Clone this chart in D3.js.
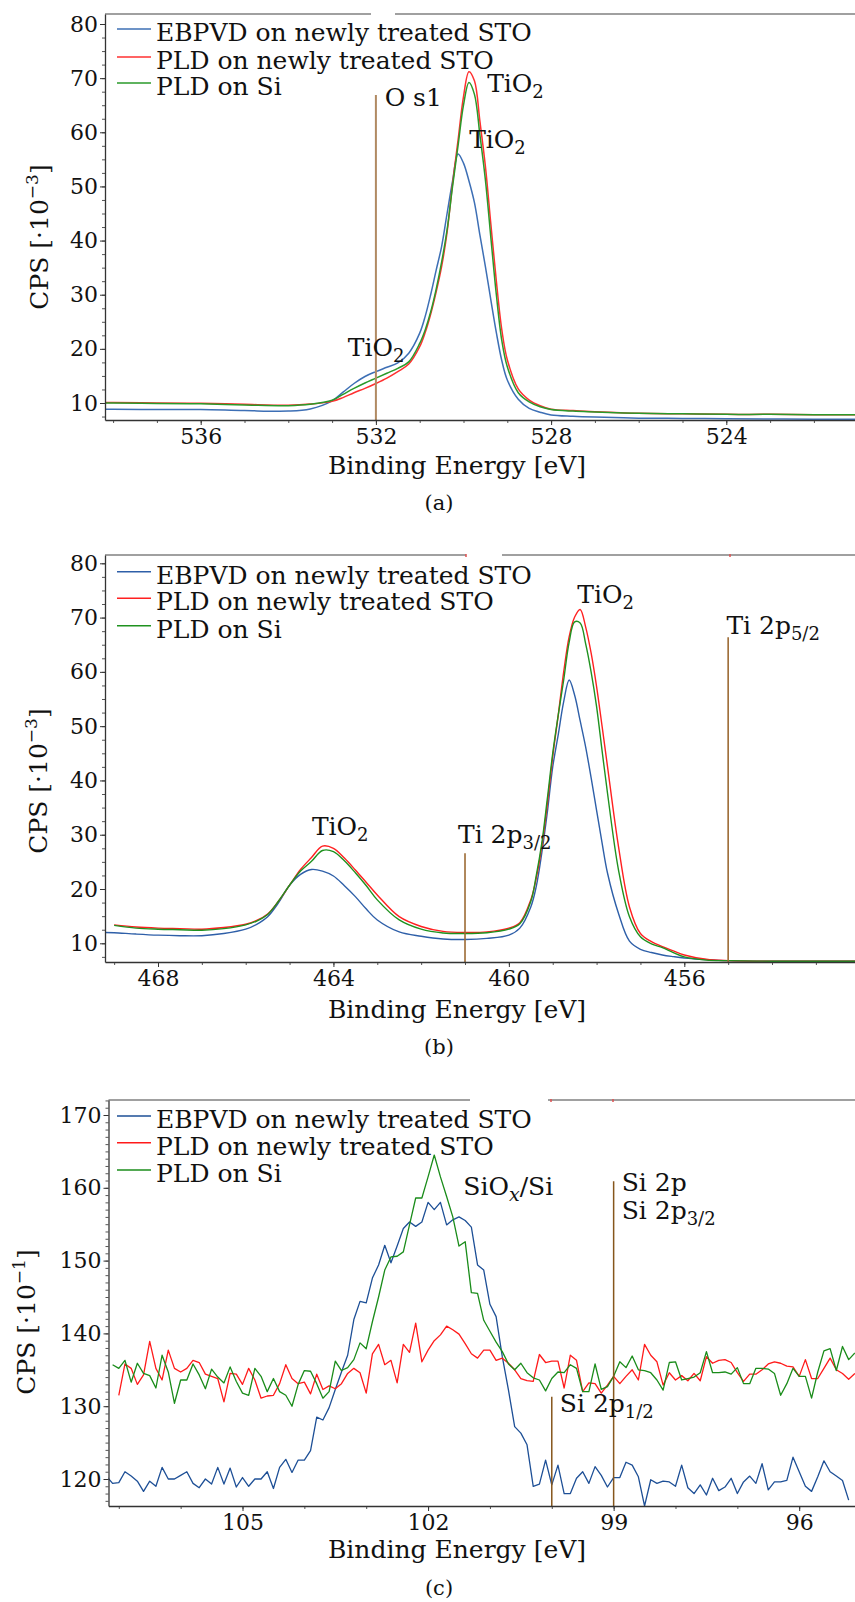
<!DOCTYPE html>
<html><head><meta charset="utf-8">
<script src="https://cdn.jsdelivr.net/npm/d3@7"></script>
<style>
body{margin:0;background:#fff}
svg{display:block}
text{font-family:"DejaVu Serif",serif;fill:#111}
</style></head>
<body>
<svg id="c" width="855" height="1602"></svg>
<script>
// ---------------- DATA ----------------
const seriesNames = ["EBPVD on newly treated STO","PLD on newly treated STO","PLD on Si"];

// Panel (a): O 1s region
const aE = [538.2,538,537,536,535,534,533.5,533,532.75,532.5,532.25,532,531.75,531.5,531.25,531,530.875,530.75,530.625,530.5,530.375,530.25,530.125,530,529.875,529.75,529.625,529.5,529.375,529.25,529.125,529,528.75,528.5,528.25,528,527.5,527,526,525,524,523,522,521];
const aBlue = [8.85,8.85,8.8,8.8,8.6,8.5,8.9,10.4,12.0,13.6,14.9,15.8,16.6,17.4,19.2,22.9,26.0,30.0,34.5,38.9,45.0,51.0,56.0,54.3,51.0,47.0,41.0,35.2,29.0,23.0,17.8,14.25,10.7,9.0,8.3,7.8,7.55,7.4,7.2,7.15,7.1,7.05,7.0,7.0];
const aRed = [10.1,10.1,10.0,9.95,9.75,9.6,9.8,10.3,11.0,11.9,12.7,13.6,14.6,15.8,17.2,20.4,23.0,26.4,30.5,35.2,41.5,50.5,58.5,66.6,71.2,69.5,62.0,53.7,43.0,32.5,23.5,18.0,12.6,10.55,9.5,8.85,8.6,8.4,8.1,8.0,7.9,7.9,7.85,7.85];
const aGreen = [10.0,10.0,9.9,9.85,9.65,9.5,9.75,10.5,11.6,12.7,13.7,14.6,15.5,16.4,17.6,21.0,23.5,26.8,31.0,36.0,42.0,50.0,57.5,65.0,69.2,67.0,59.5,51.2,40.5,30.0,21.5,16.7,11.9,10.2,9.3,8.8,8.5,8.35,8.1,8.0,7.9,7.9,7.85,7.85];
const aXTicks = [536,532,528,524];
const aYTicks = [10,20,30,40,50,60,70,80];

// Panel (b): Ti 2p region
const bE = [469.2,469,468.5,468,467.5,467,466.5,466,465.75,465.5,465.25,465,464.75,464.5,464.25,464,463.75,463.5,463.25,463,462.5,462,461.5,461,460.5,460,459.75,459.5,459.375,459.25,459.125,459,458.875,458.75,458.625,458.5,458.375,458.25,458.125,458,457.875,457.75,457.5,457.25,457,456.75,456.5,456.25,456,455.5,455,454,453,452];
const bBlue = [12.0,11.95,11.7,11.5,11.4,11.4,11.8,12.6,13.5,14.9,17.5,20.7,22.7,23.6,23.3,22.4,20.6,18.6,16.3,14.3,12.1,11.3,10.8,10.7,10.9,11.5,12.8,16.7,20.5,26.6,34.0,42.5,48.4,54.5,58.5,55.7,51.0,46.2,40.5,34.5,28.5,22.9,15.5,10.4,8.9,8.3,7.85,7.55,7.3,7.0,6.8,6.7,6.7,6.7];
const bRed = [null,13.4,13.0,12.8,12.7,12.6,12.9,13.5,14.2,15.4,17.8,20.7,23.6,25.8,27.9,27.5,25.7,23.5,21.2,18.9,14.9,13.1,12.2,12.0,12.1,12.8,13.8,18.0,22.0,27.8,35.5,44.4,52.0,60.0,66.5,70.1,71.5,68.3,63.5,57.3,50.0,42.5,27.8,16.7,11.8,10.3,9.4,8.6,7.85,7.05,6.8,6.7,6.7,6.7];
const bGreen = [null,13.3,12.8,12.6,12.5,12.4,12.7,13.4,14.1,15.3,17.8,20.7,23.3,25.1,27.1,26.9,25.2,23.0,20.6,18.0,14.3,12.6,11.9,11.8,11.95,12.6,13.6,17.7,22.5,28.4,36.5,45.0,52.0,58.5,65.5,69.2,69.0,65.2,60.0,53.6,45.5,37.6,23.5,14.9,11.2,9.9,9.2,8.3,7.5,6.9,6.8,6.7,6.7,6.7];
const bXTicks = [468,464,460,456];
const bYTicks = [10,20,30,40,50,60,70,80];

// Panel (c): Si 2p region (0.1 eV steps)
const cE = [107.2,107.1,107.0,106.9,106.8,106.7,106.6,106.5,106.4,106.3,106.2,106.1,106.0,105.9,105.8,105.7,105.6,105.5,105.4,105.3,105.2,105.1,105.0,104.9,104.8,104.7,104.6,104.5,104.4,104.3,104.2,104.1,104.0,103.9,103.8,103.7,103.6,103.5,103.4,103.3,103.2,103.1,103.0,102.9,102.8,102.7,102.6,102.5,102.4,102.3,102.2,102.1,102.0,101.9,101.8,101.7,101.6,101.5,101.4,101.3,101.2,101.1,101.0,100.9,100.8,100.7,100.6,100.5,100.4,100.3,100.2,100.1,100.0,99.9,99.8,99.7,99.6,99.5,99.4,99.3,99.2,99.1,99.0,98.9,98.8,98.7,98.6,98.5,98.4,98.3,98.2,98.1,98.0,97.9,97.8,97.7,97.6,97.5,97.4,97.3,97.2,97.1,97.0,96.9,96.8,96.7,96.6,96.5,96.4,96.3,96.2,96.1,96.0,95.9,95.8,95.7,95.6,95.5,95.4,95.3,95.2,95.1];
const cBlue = [120.4,119.4,119.5,121.0,120.4,119.7,118.3,119.7,119.0,121.6,120.0,120.0,120.5,121.0,119.4,118.8,120.0,119.3,121.6,119.3,121.5,118.9,120.2,119.0,120.0,120.0,121.0,118.7,121.6,122.7,120.9,122.6,122.6,123.9,128.5,128.1,129.8,132.3,134.7,137.0,141.9,144.4,144.2,147.6,149.4,152.1,149.7,152.0,154.4,155.3,154.7,155.3,158.0,157.0,158.0,154.9,155.6,156.0,155.5,154.6,149.4,148.7,144.0,142.3,136.8,132.2,127.2,126.3,124.7,119.0,119.3,122.6,119.2,121.9,118.0,118.0,120.1,121.0,119.4,121.7,120.5,118.9,120.2,120.2,122.3,121.9,120.3,116.3,119.9,119.4,119.7,119.6,119.0,121.9,118.8,118.0,119.2,117.8,120.1,118.4,118.9,120.1,118.0,119.6,120.4,119.4,122.1,118.5,119.6,119.6,119.8,123.0,121.0,119.0,118.3,120.3,122.5,121.0,120.4,119.8,117.1,null];
const cRed = [null,null,131.5,135.8,135.2,133.0,134.3,138.9,135.2,133.6,137.7,135.2,134.7,135.2,136.3,136.0,134.4,134.1,133.8,130.6,134.5,134.4,133.0,135.2,133.6,131.1,131.4,131.5,133.1,135.7,133.8,133.1,133.3,131.7,134.4,132.3,132.8,132.4,133.1,134.5,135.2,134.6,131.8,137.2,138.5,135.7,136.3,133.2,138.5,137.4,141.4,136.1,137.7,139.0,139.8,141.0,140.5,139.9,138.6,137.2,136.6,137.7,137.7,136.3,136.6,135.9,135.0,133.8,133.5,133.4,137.1,136.0,136.2,136.2,132.5,137.0,136.3,132.0,133.2,133.1,131.8,132.9,134.1,133.1,134.1,135.0,133.6,138.5,137.0,136.1,132.9,134.6,133.6,134.2,133.5,134.5,133.5,136.8,135.9,136.3,136.4,136.0,134.6,133.4,134.4,134.4,135.0,135.8,136.1,135.9,135.5,135.4,134.1,136.4,133.8,133.8,135.2,136.6,135.0,134.5,133.7,134.5];
const cGreen = [null,135.7,135.2,136.3,133.3,135.9,134.5,134.2,132.5,137.0,134.7,130.4,133.6,133.6,135.8,134.3,132.4,135.1,134.0,133.2,135.4,133.4,131.8,131.5,135.2,134.1,132.0,133.8,132.0,131.5,130.0,133.0,134.9,134.8,133.1,131.1,132.0,136.2,134.9,135.3,136.4,138.7,137.9,141.6,145.0,148.7,150.5,150.6,151.2,154.9,158.6,158.6,161.5,164.5,161.5,158.8,156.0,152.0,152.6,145.6,145.5,141.8,140.3,138.8,137.5,135.8,135.0,135.9,134.6,133.9,133.6,132.1,133.8,134.7,134.6,135.7,135.2,132.0,132.0,135.8,132.3,132.7,134.1,136.1,135.3,136.9,135.0,134.9,134.6,133.6,132.2,136.0,136.1,133.6,133.8,134.0,134.6,137.5,134.6,134.6,134.7,134.4,135.3,133.1,133.1,135.2,135.2,135.1,134.5,131.5,133.1,135.2,134.1,134.1,131.1,134.7,137.6,137.9,134.9,138.2,136.4,137.3];
const cXTicks = [105,102,99,96];
const cYTicks = [120,130,140,150,160,170];

// annotation markers (energy, top value) and labels (energy, value)
const aMarkers = [{E:532, top:66.9}];
const bMarkers = [{E:461, top:26.6},{E:455, top:66.4}];
const cMarkers = [{E:100, top:131.3},{E:99, top:160.9}];
const aLabels = [
  {E:531.8, v:64.9, parts:[["O s1"]]},
  {E:529.46, v:67.5, parts:[["TiO"],["2","sub"]]},
  {E:529.87, v:57.1, parts:[["TiO"],["2","sub"]]},
  {E:532.64, v:18.7, parts:[["TiO"],["2","sub"]]}
];
const bLabels = [
  {E:458.44, v:72.7, parts:[["TiO"],["2","sub"]]},
  {E:464.49, v:29.95, parts:[["TiO"],["2","sub"]]},
  {E:461.16, v:28.5, parts:[["Ti 2p"],["3/2","sub"]]},
  {E:455.04, v:67.0, parts:[["Ti 2p"],["5/2","sub"]]}
];
const cLabels = [
  {E:101.43, v:159.0, parts:[["SiO"],["x","subi"],["/Si","back"]]},
  {E:98.87, v:159.5, parts:[["Si 2p"]]},
  {E:98.87, v:155.7, parts:[["Si 2p"],["3/2","sub"]]},
  {E:99.87, v:129.2, parts:[["Si 2p"],["1/2","sub"]]}
];

// ---------------- DRAW ----------------
const svg = d3.select("#c");
const R = 855;

function drawPanel(p){
  const g = svg.append("g");
  const xc = d3.scaleLinear().domain(p.xCal).range(p.xPx);
  const yc = d3.scaleLinear().domain(p.yCal).range(p.yPx);
  const x = d3.scaleLinear().domain([xc.invert(p.left), xc.invert(R)]).range([p.left, R]);
  const y = d3.scaleLinear().domain([yc.invert(p.bottom), yc.invert(p.top)]).range([p.bottom, p.top]);

  svg.append("defs").append("clipPath").attr("id","clip"+p.id)
    .append("rect").attr("x",p.left).attr("y",p.top).attr("width",R-p.left).attr("height",p.bottom-p.top);

  p.topSegs.forEach(s=>{
    g.append("line").attr("x1",s[0]).attr("x2",s[1]).attr("y1",p.top).attr("y2",p.top)
      .attr("stroke","#a0a0a0").attr("stroke-width",2);
  });
  (p.topMarks||[]).forEach(m=>{
    g.append("line").attr("x1",m).attr("x2",m).attr("y1",p.top-1).attr("y2",p.top+2)
      .attr("stroke","#e05050").attr("stroke-width",1.5);
  });

  const plot = g.append("g").attr("clip-path","url(#clip"+p.id+")");
  p.series.forEach(s=>{
    const line = d3.line()
      .defined((d,i)=>s.v[i]!=null)
      .x((d,i)=>x(p.E[i])).y((d,i)=>y(s.v[i]))
      .curve(p.curve);
    plot.append("path").datum(p.E).attr("d",line)
      .attr("fill","none").attr("stroke",s.color).attr("stroke-width",p.lw)
      .attr("stroke-linejoin","round");
  });

  p.markers.forEach(m=>{
    g.append("line").attr("x1",x(m.E)).attr("x2",x(m.E)).attr("y1",y(m.top)).attr("y2",p.bottom)
      .attr("stroke",p.markerColor).attr("stroke-width",p.markerW);
  });

  const minorX = d3.range(Math.ceil(Math.min(...x.domain())), Math.max(...x.domain()), 1);
  const minorY = d3.range(Math.ceil(y.domain()[0]/p.yMinor)*p.yMinor, y.domain()[1], p.yMinor);
  const gx = g.append("g").attr("transform",`translate(0,${p.bottom})`);
  gx.call(d3.axisBottom(x).tickValues(minorX).tickSize(3).tickFormat("").tickSizeOuter(0));
  gx.select(".domain").remove();
  gx.selectAll("line").attr("stroke","#555");
  const gx2 = g.append("g").attr("transform",`translate(0,${p.bottom})`);
  gx2.call(d3.axisBottom(x).tickValues(p.xTicks).tickSize(5).tickPadding(3).tickFormat(d3.format("d")).tickSizeOuter(0));
  gx2.select(".domain").attr("stroke","#333").attr("stroke-width",1.3);
  gx2.selectAll("line").attr("stroke","#333");
  gx2.selectAll("text").attr("font-family","DejaVu Serif").attr("font-size",22).attr("fill","#111");

  const gy = g.append("g").attr("transform",`translate(${p.left},0)`);
  gy.call(d3.axisLeft(y).tickValues(minorY).tickSize(3).tickFormat("").tickSizeOuter(0));
  gy.select(".domain").remove();
  gy.selectAll("line").attr("stroke","#555");
  const gy2 = g.append("g").attr("transform",`translate(${p.left},0)`);
  gy2.call(d3.axisLeft(y).tickValues(p.yTicks).tickSize(5).tickPadding(2).tickFormat(d3.format("d")).tickSizeOuter(0));
  gy2.select(".domain").attr("stroke","#333").attr("stroke-width",1.3);
  gy2.selectAll("line").attr("stroke","#333");
  gy2.selectAll("text").attr("font-family","DejaVu Serif").attr("font-size",22).attr("fill","#111");

  p.series.forEach((s,i)=>{
    const ly = p.top + p.legendOffsets[i];
    g.append("line").attr("x1",117).attr("x2",151).attr("y1",ly).attr("y2",ly)
      .attr("stroke",s.color).attr("stroke-width",1.5);
    g.append("text").attr("x",156).attr("y",ly+12).attr("font-size",25).text(seriesNames[i]);
  });

  p.labels.forEach(l=>{
    const t = g.append("text").attr("x",x(l.E)).attr("y",y(l.v)).attr("font-size",25);
    l.parts.forEach(pt=>{
      const ts = t.append("tspan").text(pt[0]);
      if(pt[1]==="sub"){ ts.attr("font-size",18).attr("dy",6); }
      else if(pt[1]==="subi"){ ts.attr("font-size",19).attr("font-style","italic").attr("dy",6); }
      else if(pt[1]==="back"){ ts.attr("dy",-6); }
    });
  });

  g.append("text").attr("x",457).attr("y",p.xTitleY).attr("text-anchor","middle").attr("font-size",25)
    .text("Binding Energy [eV]");
  const yt = g.append("text").attr("transform",`translate(${p.yTitleX},${p.yTitleY}) rotate(-90)`)
    .attr("text-anchor","middle").attr("dy","0.35em").attr("font-size",25);
  yt.append("tspan").text("CPS [·10");
  yt.append("tspan").text(p.exp).attr("font-size",17).attr("dy",-10);
  yt.append("tspan").text("]").attr("dy",10);

  g.append("text").attr("x",439).attr("y",p.captionY).attr("text-anchor","middle").attr("font-size",21)
    .text(p.caption);
}

drawPanel({
  id:"a", left:105, top:14, bottom:420,
  xCal:[536,524], xPx:[200.7,726.3], yCal:[10,80], yPx:[403,24],
  E:aE, curve:d3.curveCatmullRom.alpha(0.5), lw:1.5,
  series:[{v:aBlue,color:"#3d6fb5"},{v:aRed,color:"#ff3030"},{v:aGreen,color:"#2a9a2a"}],
  xTicks:aXTicks, yTicks:aYTicks, yMinor:2.5,
  markers:aMarkers, markerColor:"#b08a62", markerW:2,
  labels:aLabels, legendOffsets:[15,43,69],
  topSegs:[[105,371],[395,855]],
  xTitleY:474, yTitleX:39.5, yTitleY:237, exp:"−3", captionY:510, caption:"(a)"
});

drawPanel({
  id:"b", left:105, top:555, bottom:962,
  xCal:[468,456], xPx:[158,684.3], yCal:[10,80], yPx:[943.3,563.3],
  E:bE, curve:d3.curveCatmullRom.alpha(0.5), lw:1.4,
  series:[{v:bBlue,color:"#2e5fa8"},{v:bRed,color:"#ff2020"},{v:bGreen,color:"#1f921f"}],
  xTicks:bXTicks, yTicks:bYTicks, yMinor:2.5,
  markers:bMarkers, markerColor:"#9c6a34", markerW:1.6,
  labels:bLabels, legendOffsets:[16.7,43.3,70.7],
  topSegs:[[105,466],[502,855]], topMarks:[466,730],
  xTitleY:1018, yTitleX:38, yTitleY:781, exp:"−3", captionY:1054, caption:"(b)"
});

drawPanel({
  id:"c", left:108.5, top:1100, bottom:1506,
  xCal:[105,96], xPx:[242.5,799.2], yCal:[120,170], yPx:[1479,1115],
  E:cE, curve:d3.curveLinear, lw:1.3,
  series:[{v:cBlue,color:"#1d4f96"},{v:cRed,color:"#ff1a1a"},{v:cGreen,color:"#1a8c1a"}],
  xTicks:cXTicks, yTicks:cYTicks, yMinor:1,
  markers:cMarkers, markerColor:"#86561c", markerW:1.5,
  labels:cLabels, legendOffsets:[16,42.7,70],
  topSegs:[[108.5,470],[548,855]], topMarks:[551,613],
  xTitleY:1558, yTitleX:26, yTitleY:1322, exp:"−1", captionY:1595, caption:"(c)"
});
</script>
</body></html>
